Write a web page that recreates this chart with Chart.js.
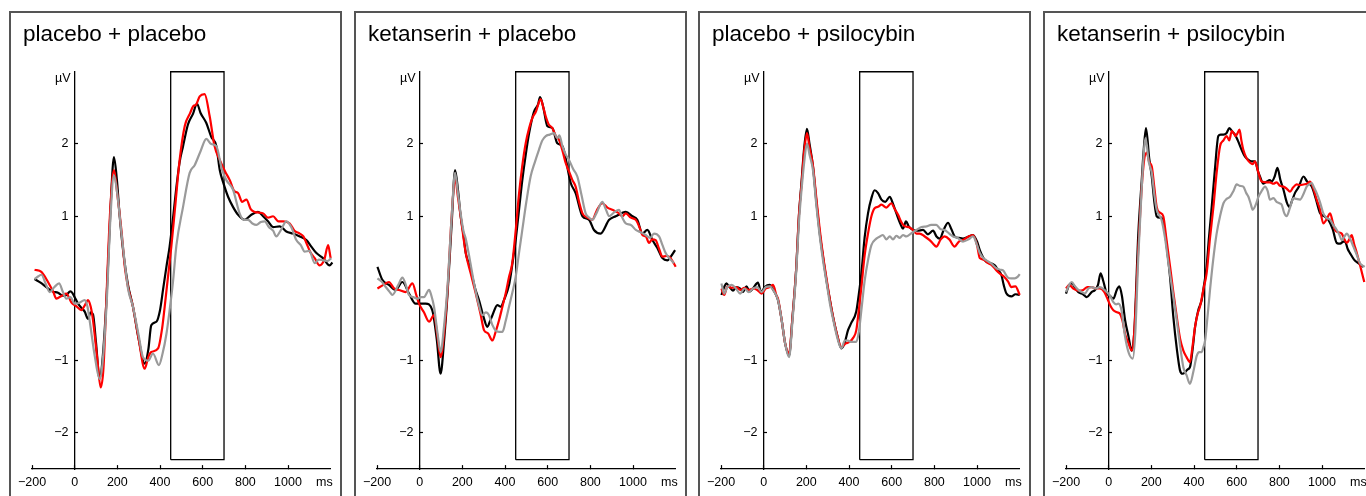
<!DOCTYPE html>
<html>
<head>
<meta charset="utf-8">
<script src="https://cdn.jsdelivr.net/npm/chart.js@4.4.1/dist/chart.umd.min.js"></script>
<style>
html, body { margin: 0; padding: 0; background: #fff; width: 1366px; height: 496px; overflow: hidden; }
.panel { position: absolute; top: 11px; width: 329px; height: 500px; border: 2px solid #555; border-bottom: none; }
.panel canvas { position: absolute; left: 0; top: 0; }
.title { position: absolute; left: 12px; top: 10px; font: 22.5px "Liberation Sans", Arial, sans-serif; line-height: 22.5px; color: #000; white-space: nowrap; }
</style>
</head>
<body>
<script>
// panel titles, axis ticks and the analysis window
const titles = ['placebo + placebo', 'ketanserin + placebo', 'placebo + psilocybin', 'ketanserin + psilocybin'];
const xTicks = [-200, 0, 200, 400, 600, 800, 1000];
const yTicks = [-2, -1, 1, 2];
const windowMs = [450, 700];
const windowUv = [-2.37, 3];

// ERP traces: [ms, µV]
const p1Black = [[-188,0.13],[-160,0.08],[-133,0.02],[-105,-0.04],[-78,-0.06],[-55,-0.1],[-39,-0.09],[-20,-0.04],[-11,-0.06],[0,-0.12],[16,-0.21],[35,-0.28],[47,-0.32],[62,-0.42],[75,-0.33],[86,-0.36],[100,-0.75],[117,-1.25],[130,-1.0],[150,-0.1],[168,1.1],[184,1.82],[198,1.5],[211,1.0],[230,0.45],[250,0.05],[273,-0.25],[300,-0.7],[328,-1.04],[345,-0.85],[359,-0.51],[383,-0.46],[400,-0.3],[414,-0.02],[430,0.3],[445,0.58],[462,1.0],[477,1.41],[492,1.75],[508,1.97],[531,2.27],[555,2.42],[573,2.56],[590,2.43],[617,2.29],[640,2.1],[664,1.97],[680,1.64],[695,1.48],[719,1.27],[742,1.13],[766,1.02],[797,0.95],[828,1.02],[859,1.06],[883,1.0],[906,0.93],[930,0.85],[961,0.86],[992,0.79],[1023,0.76],[1055,0.72],[1086,0.67],[1109,0.58],[1133,0.49],[1164,0.42],[1195,0.32],[1208,0.36]];
const p1Red = [[-188,0.26],[-156,0.23],[-125,0.09],[-100,-0.05],[-86,-0.14],[-60,-0.1],[-39,-0.07],[-16,-0.19],[10,-0.25],[31,-0.3],[50,-0.22],[62,-0.16],[75,-0.25],[86,-0.44],[105,-0.95],[122,-1.37],[135,-1.1],[148,-0.2],[165,1.0],[184,1.64],[200,1.3],[219,0.81],[235,0.3],[250,0.02],[273,-0.25],[300,-0.7],[328,-1.11],[345,-0.95],[359,-0.88],[391,-0.83],[410,-0.55],[422,-0.25],[437,0.15],[453,0.58],[470,1.1],[492,1.78],[516,2.25],[540,2.42],[555,2.52],[570,2.55],[586,2.66],[609,2.69],[633,2.38],[655,1.98],[680,1.78],[705,1.62],[727,1.5],[748,1.35],[766,1.32],[785,1.2],[805,1.23],[825,1.1],[844,1.06],[865,1.05],[883,1.04],[906,0.98],[930,1.0],[955,0.93],[977,0.93],[1008,0.9],[1030,0.8],[1055,0.76],[1072,0.72],[1086,0.63],[1105,0.5],[1125,0.42],[1148,0.32],[1170,0.4],[1188,0.6],[1200,0.42],[1211,0.35]];
const p1Gray = [[-188,0.13],[-170,0.17],[-156,0.19],[-135,0.06],[-117,-0.05],[-95,0.02],[-73,0.07],[-55,-0.05],[-39,-0.14],[-20,-0.12],[0,-0.21],[20,-0.2],[47,-0.16],[60,-0.25],[70,-0.44],[95,-0.95],[117,-1.25],[130,-1.05],[150,-0.2],[168,1.0],[184,1.57],[200,1.3],[219,0.78],[250,0.0],[273,-0.25],[300,-0.65],[320,-0.95],[345,-1.0],[367,-0.9],[395,-1.06],[412,-0.9],[430,-0.63],[445,-0.3],[461,0.1],[477,0.6],[508,1.13],[539,1.6],[563,1.71],[590,1.9],[617,2.07],[640,2.0],[664,1.97],[690,1.65],[711,1.5],[742,1.37],[773,1.04],[793,0.95],[813,0.95],[833,0.9],[852,0.88],[872,0.92],[891,0.93],[910,0.85],[930,0.8],[945,0.72],[965,0.8],[992,0.93],[1015,0.85],[1039,0.67],[1060,0.6],[1078,0.51],[1100,0.52],[1125,0.35],[1145,0.4],[1164,0.39],[1185,0.38],[1203,0.42]];

const p2Black = [[-198,0.3],[-175,0.12],[-144,0.05],[-113,-0.02],[-81,0.09],[-50,-0.07],[-19,-0.21],[10,-0.21],[28,-0.21],[59,-0.3],[80,-0.7],[98,-1.18],[115,-0.7],[130,-0.1],[150,0.9],[166,1.64],[180,1.35],[192,1.0],[205,0.75],[216,0.49],[230,0.35],[247,0.16],[260,0.0],[278,-0.16],[300,-0.4],[317,-0.53],[330,-0.45],[341,-0.37],[364,-0.23],[380,-0.25],[395,-0.16],[419,0.05],[435,0.35],[450,0.67],[466,1.1],[481,1.5],[497,1.85],[513,2.15],[536,2.45],[555,2.55],[564,2.65],[580,2.5],[598,2.25],[622,2.22],[645,2.01],[669,1.97],[708,1.46],[731,1.32],[763,1.0],[794,0.95],[817,0.81],[848,0.76],[888,0.95],[919,1.0],[966,1.06],[997,1.0],[1020,0.95],[1044,0.76],[1067,0.81],[1091,0.67],[1114,0.56],[1138,0.42],[1161,0.39],[1177,0.44],[1197,0.53]];
const p2Red = [[-198,0.0],[-170,0.05],[-144,0.09],[-120,0.0],[-97,-0.02],[-66,-0.05],[-34,0.07],[-15,-0.1],[-3,-0.21],[20,-0.33],[44,-0.46],[67,-0.37],[85,-0.7],[98,-0.95],[115,-0.6],[130,-0.05],[150,1.0],[166,1.53],[180,1.25],[192,1.0],[216,0.49],[240,0.2],[263,-0.07],[285,-0.35],[302,-0.58],[320,-0.62],[341,-0.72],[356,-0.6],[372,-0.44],[388,-0.25],[403,-0.07],[418,0.15],[434,0.35],[450,0.8],[466,1.32],[481,1.7],[497,2.01],[513,2.22],[528,2.36],[545,2.45],[567,2.62],[580,2.5],[591,2.38],[605,2.27],[622,2.22],[640,2.1],[653,2.06],[670,1.9],[684,1.74],[700,1.62],[716,1.5],[731,1.41],[747,1.2],[763,1.04],[786,0.98],[809,0.95],[830,1.08],[856,1.18],[880,1.12],[903,1.09],[930,1.05],[950,1.0],[966,1.04],[990,0.98],[1013,0.95],[1030,0.85],[1044,0.74],[1060,0.72],[1075,0.63],[1090,0.68],[1106,0.67],[1122,0.55],[1138,0.44],[1155,0.45],[1169,0.44],[1185,0.38],[1200,0.3]];
const p2Gray = [[-198,0.14],[-180,0.1],[-159,0.02],[-140,-0.05],[-128,-0.09],[-100,0.05],[-81,0.15],[-65,0.05],[-50,-0.09],[-30,-0.12],[-11,-0.14],[5,-0.12],[20,-0.12],[44,-0.02],[55,-0.1],[67,-0.25],[85,-0.65],[98,-0.88],[115,-0.5],[130,0.0],[150,1.0],[166,1.6],[180,1.3],[192,1.04],[205,0.8],[216,0.69],[235,0.4],[255,0.07],[275,-0.2],[294,-0.37],[310,-0.33],[325,-0.37],[340,-0.5],[356,-0.58],[372,-0.6],[388,-0.6],[403,-0.45],[419,-0.25],[435,-0.05],[450,0.16],[466,0.5],[481,0.81],[500,1.2],[520,1.55],[540,1.75],[559,1.92],[575,2.05],[591,2.11],[610,2.13],[630,2.15],[645,2.08],[655,2.12],[669,1.97],[685,1.85],[700,1.78],[720,1.65],[739,1.55],[758,1.3],[778,1.04],[795,0.98],[809,0.95],[830,1.05],[856,1.2],[872,1.1],[888,1.0],[910,1.05],[934,1.09],[950,0.98],[966,0.9],[990,0.88],[1013,0.81],[1035,0.78],[1059,0.74],[1080,0.7],[1098,0.76],[1122,0.72],[1138,0.6],[1153,0.49],[1170,0.42],[1192,0.35]];

const p3Black = [[-198,-0.09],[-185,0.02],[-175,0.07],[-160,0.02],[-144,-0.03],[-128,0.02],[-110,0.0],[-97,-0.05],[-81,0.03],[-65,-0.04],[-50,0.0],[-27,0.08],[-12,-0.05],[5,0.02],[28,0.05],[45,-0.02],[67,-0.16],[85,-0.45],[100,-0.75],[119,-0.93],[135,-0.4],[153,0.3],[165,1.0],[177,1.46],[190,1.95],[203,2.21],[215,2.0],[231,1.69],[247,1.2],[263,0.76],[280,0.4],[294,0.12],[310,-0.15],[325,-0.39],[345,-0.65],[364,-0.83],[380,-0.75],[395,-0.58],[410,-0.48],[434,-0.32],[445,-0.1],[458,0.21],[473,0.7],[489,1.04],[505,1.25],[520,1.36],[536,1.32],[552,1.23],[570,1.2],[591,1.27],[605,1.18],[622,1.04],[640,0.9],[653,0.83],[667,0.93],[680,0.86],[700,0.81],[720,0.8],[747,0.81],[770,0.75],[794,0.8],[810,0.72],[825,0.69],[845,0.82],[864,0.91],[880,0.82],[895,0.72],[915,0.7],[934,0.69],[960,0.72],[981,0.74],[1000,0.65],[1013,0.53],[1030,0.42],[1044,0.37],[1065,0.35],[1083,0.32],[1100,0.25],[1114,0.19],[1125,0.05],[1138,-0.07],[1161,-0.11],[1180,-0.08],[1200,-0.09]];
const p3Red = [[-198,0.0],[-185,-0.09],[-170,0.03],[-150,0.01],[-128,0.02],[-110,-0.02],[-90,0.01],[-70,-0.02],[-50,0.0],[-30,-0.02],[-10,-0.07],[10,0.0],[30,0.02],[44,0.05],[60,-0.1],[67,-0.14],[85,-0.45],[100,-0.75],[119,-0.9],[135,-0.4],[153,0.3],[165,1.0],[177,1.42],[190,1.9],[203,2.15],[215,1.95],[231,1.7],[247,1.25],[263,0.81],[280,0.42],[294,0.15],[310,-0.15],[325,-0.39],[345,-0.65],[364,-0.81],[385,-0.76],[403,-0.74],[420,-0.68],[434,-0.58],[446,-0.3],[458,0.02],[473,0.45],[489,0.76],[505,1.0],[520,1.11],[536,1.13],[552,1.16],[575,1.12],[598,1.18],[614,1.1],[630,1.02],[645,0.92],[661,0.86],[680,0.85],[700,0.81],[716,0.76],[731,0.76],[755,0.72],[778,0.67],[794,0.62],[809,0.58],[830,0.68],[848,0.72],[870,0.68],[895,0.58],[915,0.65],[934,0.67],[960,0.72],[981,0.74],[1000,0.6],[1013,0.42],[1030,0.4],[1052,0.35],[1070,0.32],[1091,0.25],[1110,0.2],[1128,0.16],[1145,0.1],[1161,0.02],[1180,0.03],[1200,-0.09]];
const p3Gray = [[-198,0.07],[-185,-0.07],[-170,0.02],[-150,0.05],[-130,0.0],[-110,-0.07],[-90,0.0],[-70,-0.05],[-50,0.0],[-30,0.02],[-10,-0.05],[10,0.02],[28,0.03],[44,-0.02],[67,-0.16],[85,-0.45],[100,-0.75],[119,-0.95],[135,-0.45],[153,0.25],[165,0.9],[177,1.35],[190,1.75],[203,2.01],[215,1.85],[231,1.64],[247,1.15],[263,0.72],[280,0.35],[294,0.1],[310,-0.2],[325,-0.42],[345,-0.68],[364,-0.83],[380,-0.72],[395,-0.72],[410,-0.74],[434,-0.74],[446,-0.6],[458,-0.3],[473,0.1],[489,0.39],[505,0.6],[528,0.69],[545,0.72],[559,0.74],[575,0.68],[591,0.72],[606,0.68],[622,0.73],[638,0.7],[653,0.74],[669,0.72],[690,0.76],[716,0.81],[740,0.85],[763,0.86],[785,0.88],[809,0.88],[830,0.82],[848,0.81],[870,0.76],[888,0.72],[910,0.7],[934,0.65],[960,0.68],[981,0.72],[1000,0.6],[1013,0.49],[1030,0.42],[1044,0.39],[1065,0.35],[1091,0.28],[1110,0.26],[1122,0.25],[1145,0.15],[1160,0.14],[1177,0.14],[1190,0.16],[1200,0.2]];

const p4Black = [[-200,-0.07],[-185,0.05],[-173,0.07],[-155,0.0],[-142,-0.05],[-120,-0.08],[-103,-0.12],[-80,-0.05],[-64,-0.02],[-50,0.05],[-38,0.21],[-25,0.1],[-9,-0.07],[5,-0.1],[22,-0.14],[38,-0.02],[50,0.03],[62,-0.1],[77,-0.44],[92,-0.65],[108,-0.86],[120,-0.6],[139,0.76],[155,1.5],[165,1.95],[175,2.22],[190,1.8],[202,1.55],[214,1.2],[225,1.0],[240,0.98],[248,0.98],[260,0.85],[272,0.58],[288,0.15],[303,-0.39],[320,-0.85],[334,-1.13],[346,-1.18],[358,-1.16],[370,-1.12],[381,-1.09],[395,-0.8],[405,-0.53],[420,-0.3],[436,-0.16],[447,0.05],[459,0.3],[470,0.7],[483,1.13],[498,1.65],[514,2.11],[525,2.13],[538,2.13],[552,2.15],[566,2.22],[580,2.17],[592,2.13],[605,2.05],[623,1.92],[640,1.82],[655,1.78],[670,1.76],[686,1.76],[700,1.62],[709,1.55],[725,1.45],[741,1.48],[755,1.5],[764,1.48],[778,1.55],[791,1.67],[805,1.5],[819,1.37],[834,1.2],[847,1.13],[860,1.22],[873,1.32],[890,1.4],[913,1.55],[930,1.48],[952,1.41],[970,1.25],[991,1.04],[1010,1.0],[1030,0.95],[1050,0.82],[1069,0.63],[1085,0.62],[1100,0.65],[1108,0.65],[1120,0.55],[1131,0.49],[1150,0.4],[1170,0.35],[1194,0.3]];
const p4Red = [[-200,0.0],[-185,0.05],[-166,0.0],[-140,-0.03],[-119,-0.02],[-100,0.02],[-80,0.02],[-60,0.0],[-41,0.0],[-20,-0.05],[-9,-0.12],[10,-0.25],[22,-0.3],[40,-0.33],[53,-0.35],[65,-0.45],[77,-0.63],[92,-0.75],[108,-0.86],[120,-0.6],[139,0.55],[160,1.6],[178,1.88],[190,1.75],[202,1.69],[214,1.4],[225,1.13],[240,1.05],[256,1.0],[270,0.7],[288,0.3],[303,-0.05],[319,-0.39],[335,-0.7],[350,-0.86],[365,-0.95],[381,-1.02],[393,-0.8],[405,-0.53],[417,-0.35],[428,-0.25],[445,0.0],[459,0.21],[475,0.7],[491,1.13],[506,1.6],[522,1.97],[538,2.05],[553,2.11],[565,2.05],[577,2.18],[586,2.15],[595,2.11],[604,2.15],[613,2.2],[622,2.05],[631,1.92],[647,1.8],[663,1.74],[675,1.72],[686,1.76],[700,1.62],[717,1.48],[740,1.47],[756,1.47],[772,1.45],[787,1.47],[803,1.42],[819,1.41],[835,1.38],[850,1.34],[865,1.4],[881,1.44],[897,1.43],[913,1.44],[930,1.45],[944,1.48],[960,1.38],[975,1.23],[990,1.1],[1006,0.9],[1020,0.95],[1038,1.04],[1050,0.92],[1061,0.81],[1075,0.78],[1092,0.76],[1105,0.68],[1116,0.63],[1128,0.68],[1139,0.74],[1150,0.62],[1163,0.49],[1180,0.3],[1198,0.09]];
const p4Gray = [[-200,-0.05],[-185,0.05],[-173,0.09],[-158,0.03],[-142,-0.02],[-125,-0.05],[-111,-0.07],[-95,0.0],[-80,0.02],[-60,0.0],[-41,0.02],[-20,-0.02],[-2,-0.07],[10,-0.12],[22,-0.19],[35,-0.22],[45,-0.21],[60,-0.3],[77,-0.67],[95,-0.9],[113,-0.97],[125,-0.6],[139,0.45],[155,1.4],[173,2.08],[188,1.75],[202,1.6],[214,1.3],[225,1.09],[240,1.0],[248,0.95],[264,0.7],[280,0.35],[300,-0.05],[319,-0.44],[335,-0.8],[350,-1.09],[365,-1.2],[381,-1.32],[397,-1.15],[413,-0.93],[425,-0.88],[436,-0.88],[445,-0.8],[452,-0.72],[463,-0.4],[475,-0.02],[490,0.4],[506,0.76],[522,1.0],[538,1.18],[553,1.24],[569,1.27],[585,1.35],[600,1.44],[615,1.42],[631,1.41],[645,1.32],[655,1.27],[665,1.18],[675,1.09],[688,1.15],[702,1.27],[717,1.35],[733,1.41],[745,1.35],[756,1.23],[772,1.25],[787,1.2],[800,1.18],[811,1.16],[822,1.05],[834,1.0],[850,1.12],[866,1.25],[880,1.24],[897,1.23],[912,1.3],[928,1.41],[944,1.45],[952,1.46],[962,1.4],[975,1.32],[990,1.2],[1006,1.04],[1020,0.98],[1038,0.95],[1052,0.88],[1069,0.81],[1082,0.74],[1092,0.67],[1105,0.72],[1116,0.76],[1130,0.7],[1147,0.58],[1165,0.45],[1178,0.35],[1200,0.3]];

const panels = [
  [p1Black, p1Red, p1Gray],
  [p2Black, p2Red, p2Gray],
  [p3Black, p3Red, p3Gray],
  [p4Black, p4Red, p4Gray]
];

const msLabelAt = 1170;   // where the "ms" unit sits on the x axis
const uvLabelAt = 2.9;    // where the "µV" unit sits on the y axis
const fontFamily = '"Liberation Sans", Arial, Helvetica, sans-serif';

Chart.defaults.font.family = fontFamily;
Chart.defaults.color = '#000';

function fmt(v) {
  return v < 0 ? '\u2212' + Math.abs(v) : String(v);
}

// y labels of an axis placed at x=0 ignore ticks.padding, so pad with a trailing space
function yLabel(v) {
  return v === uvLabelAt ? '\u00b5V\u2004' : fmt(v) + '\u2002';
}

function trace(pts, color) {
  return {
    data: pts.map(p => ({ x: p[0], y: p[1] })),
    borderColor: color,
    borderWidth: 2.2,
    pointRadius: 0,
    cubicInterpolationMode: 'monotone',
    fill: false,
    clip: false
  };
}

// keep label overhang from pushing the plot area around
function noOverhang(s) {
  s.paddingLeft = 0;
  s.paddingRight = 0;
  s.paddingTop = 0;
  s.paddingBottom = 0;
}

titles.forEach(function(title, i) {
  const div = document.createElement('div');
  div.className = 'panel';
  div.style.left = Math.round(9 + 344.6 * i) + 'px';
  const canvas = document.createElement('canvas');
  canvas.width = 329;
  canvas.height = 483;
  div.appendChild(canvas);
  const t = document.createElement('div');
  t.className = 'title';
  t.textContent = title;
  div.appendChild(t);
  document.body.appendChild(div);

  const [black, red, gray] = panels[i];
  const box = {
    data: [
      { x: windowMs[0], y: windowUv[0] }, { x: windowMs[0], y: windowUv[1] },
      { x: windowMs[1], y: windowUv[1] }, { x: windowMs[1], y: windowUv[0] },
      { x: windowMs[0], y: windowUv[0] }
    ],
    borderColor: '#000', borderWidth: 1.3, pointRadius: 0, tension: 0, fill: false, clip: false
  };

  new Chart(canvas.getContext('2d'), {
    type: 'line',
    data: {
      // first dataset is painted last, so grey ends up on top
      datasets: [trace(gray, '#9a9a9a'), trace(red, '#ff0000'), trace(black, '#000000'), box]
    },
    options: {
      responsive: false,
      animation: false,
      devicePixelRatio: 1,
      layout: { padding: { left: 21, right: 9.3, top: 58.75, bottom: 0 } },
      plugins: { legend: { display: false }, tooltip: { enabled: false } },
      scales: {
        x: {
          type: 'linear', min: -200, max: 1200, position: 'bottom',
          afterBuildTicks: a => { a.ticks = xTicks.concat([msLabelAt]).map(v => ({ value: v })); },
          afterFit: s => { s.height = 26.9; noOverhang(s); },
          border: { display: true, color: '#000', width: 1.3 },
          grid: {
            display: true, drawOnChartArea: false, drawTicks: true, tickLength: -4, tickWidth: 1.2,
            tickColor: c => (c.tick && c.tick.value === msLabelAt) ? 'rgba(0,0,0,0)' : '#000'
          },
          ticks: {
            autoSkip: false, maxRotation: 0, padding: 10, color: '#000',
            font: { size: 12.5 },
            callback: v => v === msLabelAt ? 'ms' : fmt(v)
          }
        },
        y: {
          type: 'linear', min: -2.5, max: 3, position: { x: 0 },
          afterBuildTicks: a => { a.ticks = yTicks.concat([uvLabelAt]).map(v => ({ value: v })); },
          afterFit: noOverhang,
          border: { display: true, color: '#000', width: 1.3 },
          grid: {
            display: true, drawOnChartArea: false, drawTicks: true, tickLength: -4, tickWidth: 1.2,
            tickColor: c => (c.tick && c.tick.value === uvLabelAt) ? 'rgba(0,0,0,0)' : '#000'
          },
          ticks: {
            autoSkip: false, color: '#000',
            font: { size: 12.5 },
            callback: yLabel
          }
        }
      }
    }
  });
});
</script>
</body>
</html>
